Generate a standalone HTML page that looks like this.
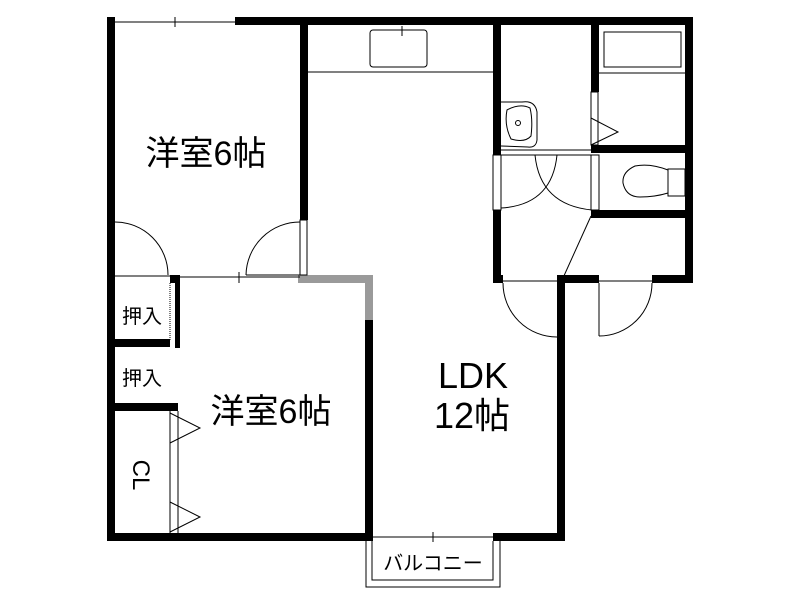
<!DOCTYPE html>
<html><head><meta charset="utf-8"><style>
html,body{margin:0;padding:0;background:#fff;width:800px;height:600px;overflow:hidden}
text{font-family:"Liberation Sans","Noto Sans CJK JP",sans-serif;fill:#000}
</style></head><body>
<svg width="800" height="600" viewBox="0 0 800 600" xmlns="http://www.w3.org/2000/svg">
<g fill="#000">
<rect x="107" y="17" width="8" height="524"/>
<rect x="235" y="17" width="458" height="8"/>
<rect x="685" y="17" width="8" height="266"/>
<rect x="300" y="17" width="8" height="203"/>
<rect x="107" y="533" width="266" height="8"/>
<rect x="493" y="533" width="72" height="8"/>
<rect x="365" y="320" width="8" height="221"/>
<rect x="298" y="275" width="75" height="8" fill="#9a9a9a"/>
<rect x="365" y="283" width="8" height="37" fill="#9a9a9a"/>
<rect x="557" y="275" width="8" height="266"/>
<rect x="170" y="275" width="10" height="8"/>
<rect x="175" y="283" width="5" height="65"/>
<rect x="115" y="339" width="55" height="8"/>
<rect x="115" y="403" width="63" height="8"/>
<rect x="493" y="17" width="8" height="138"/>
<rect x="493" y="210" width="8" height="73"/>
<rect x="591" y="17" width="8" height="75"/>
<rect x="591" y="145" width="102" height="8"/>
<rect x="591" y="210" width="102" height="8"/>
<rect x="493" y="275" width="10" height="8"/>
<rect x="557" y="275" width="42" height="8"/>
<rect x="652" y="275" width="41" height="8"/>
</g>
<g fill="none" stroke="#000" stroke-width="1">
<line x1="115" y1="22" x2="235" y2="22"/>
<line x1="175" y1="17" x2="175" y2="27"/>
<line x1="115" y1="276" x2="170" y2="276"/>
<line x1="180" y1="277" x2="300" y2="277"/>
<line x1="239" y1="272" x2="239" y2="283"/>
<path d="M115 222 A53 53 0 0 1 168 275"/>
<path d="M300 222 A54 54 0 0 0 246 275"/>
<line x1="246" y1="275" x2="300" y2="275"/>
<rect x="300" y="220" width="7" height="55"/>
<line x1="170" y1="283" x2="170" y2="340" stroke-dasharray="1,1"/>
<line x1="170" y1="411" x2="170" y2="533"/>
<line x1="178" y1="411" x2="178" y2="533"/>
<polyline points="170,413 200,428 170,443"/>
<polyline points="170,502 200,517 170,532"/>
<line x1="373" y1="537" x2="493" y2="537"/>
<line x1="433" y1="532" x2="433" y2="542"/>
<polyline points="366,541 366,587 500,587 500,541"/>
<polyline points="372,541 372,580 493,580 493,541"/>
<line x1="308" y1="72" x2="493" y2="72"/>
<rect x="370" y="30" width="57" height="37" rx="3"/>
<line x1="402" y1="26" x2="402" y2="36"/>
<rect x="604" y="32" width="77" height="35"/>
<line x1="599" y1="73" x2="685" y2="73"/>
<rect x="591" y="92" width="7" height="53"/>
<polyline points="591,118 618,132 591,145"/>
<path d="M501 102 L522 102 Q535 100 537 112 L537 140 Q536 148 528 147 L501 146"/>
<path d="M507 110 Q520 103 530 108 Q533 120 531 136 Q525 143 511 139 Q504 125 507 110 Z"/>
<circle cx="518" cy="123" r="2.5"/>
<line x1="501" y1="150" x2="591" y2="150"/>
<line x1="501" y1="155" x2="591" y2="155"/>
<rect x="493" y="155" width="8" height="55"/>
<rect x="591" y="155" width="8" height="55"/>
<path d="M535 155 Q540 205 592 210"/>
<path d="M557 155 Q552 205 501 208"/>
<line x1="591" y1="216" x2="563" y2="278"/>
<path d="M668 170 Q650 163 635 166 Q622 172 623 183 Q626 197 640 197 Q655 197 668 193"/>
<rect x="668" y="169" width="17" height="27"/>
<line x1="503" y1="281" x2="557" y2="281"/>
<path d="M503 283 A54 54 0 0 0 557 337"/>
<line x1="599" y1="283" x2="599" y2="336"/>
<path d="M599 336 A53 53 0 0 0 652 283"/>
<line x1="599" y1="281" x2="652" y2="281"/>
</g>
<text x="206" y="165" font-size="34" text-anchor="middle">洋室6帖</text>
<text x="271" y="423" font-size="34" text-anchor="middle">洋室6帖</text>
<text x="473" y="388" font-size="36" text-anchor="middle">LDK</text>
<text x="472" y="428" font-size="36" text-anchor="middle">12帖</text>
<text x="142" y="323" font-size="20" text-anchor="middle">押入</text>
<text x="142" y="385" font-size="20" text-anchor="middle">押入</text>
<text x="0" y="0" font-size="24" text-anchor="middle" transform="translate(133,475) rotate(90)">CL</text>
<text x="433" y="570" font-size="20" text-anchor="middle">バルコニー</text>
</svg>
</body></html>
